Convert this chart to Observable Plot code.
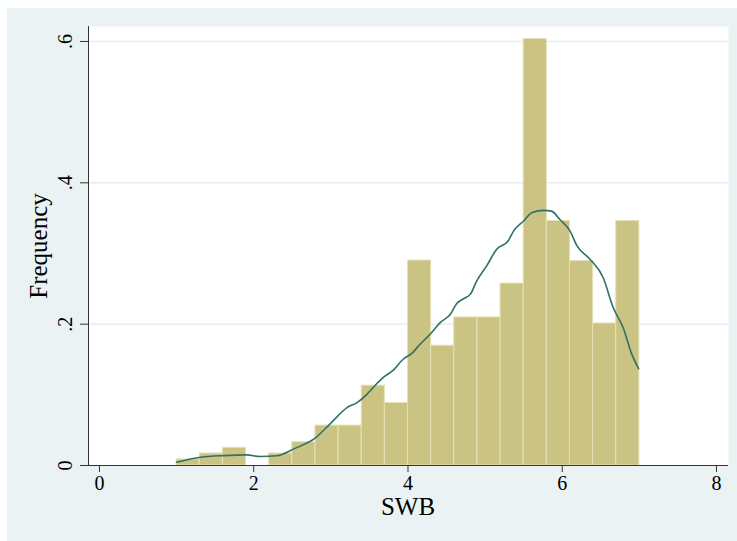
<!DOCTYPE html>
<html>
<head>
<meta charset="utf-8">
<script src="https://cdn.jsdelivr.net/npm/d3@7"></script>
<script src="https://cdn.jsdelivr.net/npm/@observablehq/plot@0.6"></script>
<style>
  html, body { margin: 0; padding: 0; background: #ffffff; }
  #panel { position: absolute; left: 7px; top: 8px; width: 730px; height: 533px; background: #eaf2f3; }
  #panel svg { display: block; }
</style>
</head>
<body>
<div id="panel"></div>
<script>
// Histogram bins (SWB), width 0.3 from 1 to 7
const binStart = [1.0, 1.3, 1.6, 1.9, 2.2, 2.5, 2.8, 3.1, 3.4, 3.7, 4.0, 4.3, 4.6, 4.9, 5.2, 5.5, 5.8, 6.1, 6.4, 6.7];
const binEnd   = [1.3, 1.6, 1.9, 2.2, 2.5, 2.8, 3.1, 3.4, 3.7, 4.0, 4.3, 4.6, 4.9, 5.2, 5.5, 5.8, 6.1, 6.4, 6.7, 7.0];
const binFreq  = [0.0085, 0.017, 0.025, 0, 0.017, 0.033, 0.0565, 0.0565, 0.113, 0.0885, 0.29, 0.1695, 0.2095, 0.2095, 0.2575, 0.6035, 0.346, 0.2895, 0.201, 0.346];

// Kernel density curve
const kdX = [1.0, 1.31, 1.61, 1.91, 2.08, 2.30, 2.52, 2.80, 2.99, 3.21, 3.34, 3.47, 3.55, 3.68, 3.81, 3.94, 4.05, 4.16, 4.29, 4.42, 4.55, 4.63, 4.72, 4.81, 4.89, 5.02, 5.15, 5.30, 5.37, 5.50, 5.61, 5.76, 5.86, 5.97, 6.10, 6.19, 6.36, 6.53, 6.66, 6.79, 6.90, 6.99];
const kdY = [0.0047, 0.0117, 0.014, 0.015, 0.0127, 0.0137, 0.0235, 0.039, 0.059, 0.082, 0.089, 0.101, 0.1106, 0.1247, 0.135, 0.1507, 0.1586, 0.172, 0.186, 0.2025, 0.214, 0.229, 0.236, 0.2425, 0.261, 0.2825, 0.306, 0.318, 0.332, 0.346, 0.358, 0.361, 0.360, 0.348, 0.332, 0.311, 0.292, 0.266, 0.2235, 0.195, 0.158, 0.137];

const xTicks = [0, 2, 4, 6, 8];
const yTicks = [0, 0.2, 0.4, 0.6];
const yTickLabels = ["0", ".2", ".4", ".6"];

const bins = binStart.map((s, i) => ({x1: s, x2: binEnd[i], y: binFreq[i]})).filter(d => d.y > 0);
const curve = kdX.map((x, i) => ({x, y: kdY[i]}));
const yLab = yTicks.map((y, i) => ({y, t: yTickLabels[i]}));

const serif = "'Liberation Serif', 'DejaVu Serif', serif";

const chart = Plot.plot({
  width: 730,
  height: 533,
  marginLeft: 81,
  marginTop: 18,
  marginRight: 9,
  marginBottom: 76,
  style: { background: "transparent", fontFamily: serif, color: "#000" },
  x: { domain: [-0.1426, 8.1556] },
  y: { domain: [0, 0.6212] },
  marks: [
    Plot.frame({ fill: "#ffffff", stroke: null }),
    Plot.ruleY([0.2, 0.4, 0.6], { stroke: "#e6eef0", strokeWidth: 1.5 }),
    Plot.rectY(bins, { x1: "x1", x2: "x2", y: "y", fill: "#cbc383", stroke: "#e6e0b4", strokeWidth: 1, inset: 0 }),
    Plot.line(curve, { x: "x", y: "y", stroke: "#2f7166", strokeWidth: 1.6, curve: "monotone-x" }),
    Plot.axisX({ ticks: xTicks, tickSize: 7, tickPadding: 3, fontSize: 20, fontFamily: serif, label: null, stroke: "#333" }),
    Plot.axisY({ ticks: yTicks, tickSize: 8, tickFormat: () => "", label: null, stroke: "#333" }),
    Plot.text(yLab, { y: "y", text: "t", frameAnchor: "left", textAnchor: "middle", lineAnchor: "middle", dx: -23, rotate: -90, fontSize: 20, fontFamily: serif, fill: "#000" }),
    Plot.ruleY([0], { stroke: "#333", strokeWidth: 1 }),
    Plot.frame({ anchor: "left", stroke: "#333", strokeWidth: 1 }),
    Plot.text(["Frequency"], { frameAnchor: "left", textAnchor: "middle", lineAnchor: "middle", dx: -50, rotate: -90, fontSize: 25, fontFamily: serif, fill: "#000" }),
    Plot.text(["SWB"], { x: 4, frameAnchor: "bottom", textAnchor: "middle", lineAnchor: "middle", dy: 41, fontSize: 25, fontFamily: serif, fill: "#000" })
  ]
});
document.getElementById("panel").appendChild(chart);
</script>
</body>
</html>
